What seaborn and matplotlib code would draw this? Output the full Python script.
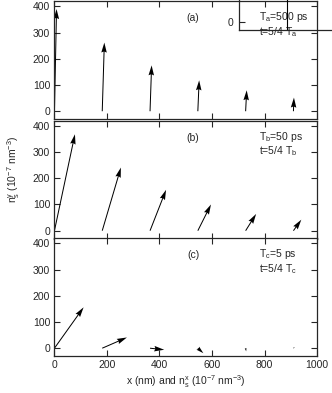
import numpy as np
import seaborn as sns
import matplotlib.pyplot as plt

# arrow positions (nm) and spin density vectors (10^-7 nm^-3)
x0 = [0, 182, 364, 546, 728, 910]
u_a = [8, 8, 6, 5, 4, 2]
v_a = [390, 262, 175, 118, 80, 52]
u_b = [78, 71, 61, 50, 40, 30]
v_b = [368, 241, 156, 100, 64, 42]
u_c = [111, 94, 54, 21, 2, 5]
v_c = [156, 41, -6, -19, -12, 4]

panel_tags = ["(a)", "(b)", "(c)"]
period_text = ["T$_\\mathrm{a}$=500 ps", "T$_\\mathrm{b}$=50 ps", "T$_\\mathrm{c}$=5 ps"]
time_text = ["t=5/4 T$_\\mathrm{a}$", "t=5/4 T$_\\mathrm{b}$", "t=5/4 T$_\\mathrm{c}$"]

sns.set_style("ticks")
plt.rcParams['font.family'] = ['Liberation Sans', 'DejaVu Sans']
plt.rcParams['mathtext.fontset'] = 'custom'
plt.rcParams['mathtext.rm'] = 'Liberation Sans'
plt.rcParams['mathtext.it'] = 'Liberation Sans'
plt.rcParams['font.size'] = 7.5

fig = plt.figure(figsize=(3.32, 3.93), dpi=100)
left, width, height = 0.164, 0.791, 0.300
bottoms = [0.697, 0.393, 0.094]
axes = [fig.add_axes([left, b, width, height]) for b in bottoms]

y0 = np.zeros(len(x0))
for i, (ax, u, v) in enumerate(zip(axes, [u_a, u_b, u_c], [v_a, v_b, v_c])):
    ax.quiver(x0, y0, u, v, angles='xy', scale_units='xy', scale=1,
              units='inches', width=0.01, headwidth=5.5, headlength=10,
              headaxislength=9, color='black')
    ax.set_xlim(0, 1000)
    ax.set_ylim(-30, 420)
    ax.set_xticks(range(0, 1001, 200))
    ax.set_yticks(range(0, 401, 100))
    ax.tick_params(direction='in', top=True, right=True, length=4,
                   width=0.8, labelsize=7.5, pad=3)
    for s in ax.spines.values():
        s.set_linewidth(0.9)
    if i < 2:
        ax.tick_params(labelbottom=False)
    ax.text(0.528, 0.856, panel_tags[i], transform=ax.transAxes,
            ha='center', va='center', fontsize=7.5)
    ax.text(0.78, 0.865, period_text[i], transform=ax.transAxes,
            ha='left', va='center', fontsize=7.5)
    ax.text(0.78, 0.74, time_text[i], transform=ax.transAxes,
            ha='left', va='center', fontsize=7.5)

axes[2].set_xlabel("x (nm) and n$_\\mathrm{s}^\\mathrm{x}$ (10$^{-7}$ nm$^{-3}$)", fontsize=7.5, labelpad=2)
axes[1].set_ylabel("n$_\\mathrm{s}^\\mathrm{y}$ (10$^{-7}$ nm$^{-3}$)", fontsize=7.5)
axes[1].yaxis.set_label_coords(-0.125, 0.59)

# stray overlapping frame in the top right corner
ins = fig.add_axes([0.72, 0.924, 0.4, 0.2])
ins.set_facecolor('none')
ins.set_xlim(0, 1)
ins.set_ylim(-0.1, 0.9)
ins.set_xticks([])
ins.set_yticks([0])
ins.tick_params(direction='in', length=4, width=0.8, labelsize=7.5, pad=4)
ins.axvline(0.36, color='black', lw=0.8)
for s in ins.spines.values():
    s.set_linewidth(0.9)

fig.savefig("out.png", dpi=100)
